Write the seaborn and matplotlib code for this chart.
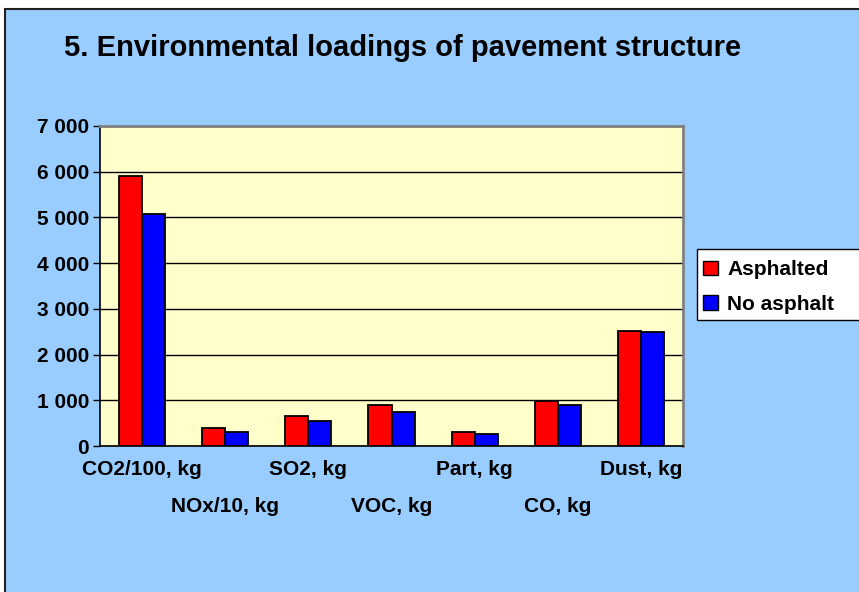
import pandas as pd
import matplotlib
matplotlib.use("Agg")
import matplotlib.pyplot as plt
import seaborn as sns
from matplotlib.patches import Rectangle
from matplotlib.ticker import FuncFormatter

# Data
CATEGORIES = ["CO2/100, kg", "NOx/10, kg", "SO2, kg", "VOC, kg", "Part, kg", "CO, kg", "Dust, kg"]
ASPHALTED = [5900, 400, 660, 900, 300, 990, 2520]
NO_ASPHALT = [5080, 300, 540, 740, 270, 900, 2490]
SERIES = ["Asphalted", "No asphalt"]
Y_TICKS = [0, 1000, 2000, 3000, 4000, 5000, 6000, 7000]

TITLE = "5. Environmental loadings of pavement structure"

BG_BLUE = "#99CCFF"
PLOT_YELLOW = "#FFFFCC"
COLORS = ["#FF0000", "#0000FF"]

W, H = 859, 592

df = pd.DataFrame({
    "category": CATEGORIES * 2,
    "value": ASPHALTED + NO_ASPHALT,
    "series": [SERIES[0]] * len(CATEGORIES) + [SERIES[1]] * len(CATEGORIES),
})

sns.set_style("white")
plt.rcParams["font.family"] = ["Liberation Sans", "DejaVu Sans"]
plt.rcParams["font.weight"] = "bold"
plt.rcParams["text.color"] = "black"
plt.rcParams["xtick.color"] = "black"
plt.rcParams["ytick.color"] = "black"

fig = plt.figure(figsize=(W / 100, H / 100), dpi=100)
fig.patch.set_facecolor("white")

# slide background with black border (cropped on right/bottom)
fig.patches.append(Rectangle((5 / W, -0.1), 1.2, (H - 8.5) / H + 0.1,
                             transform=fig.transFigure, facecolor=BG_BLUE,
                             edgecolor="#222222", linewidth=1.5, zorder=-5))

fig.text(64 / W, 1 - 48 / H, TITLE, fontsize=21, fontweight="bold",
         ha="left", va="center", color="black")

# plot area in pixels: x 100..683, y 126..446
left, right, top, bottom = 100, 683, 126, 446
ax = fig.add_axes([left / W, 1 - bottom / H, (right - left) / W, (bottom - top) / H])
ax.set_facecolor(PLOT_YELLOW)

sns.barplot(data=df, x="category", y="value", hue="series", palette=COLORS,
            width=0.555, saturation=1, edgecolor="black", linewidth=1.3,
            ax=ax, legend=True, zorder=3)

ax.set_ylim(0, 7000)
ax.set_yticks(Y_TICKS)
ax.yaxis.set_major_formatter(FuncFormatter(lambda v, p: f"{int(v):,}".replace(",", " ")))
ax.set_axisbelow(True)
ax.yaxis.grid(True, color="black", linewidth=1)
ax.xaxis.grid(False)
ax.set_xlabel("")
ax.set_ylabel("")

for s in ["top", "right"]:
    ax.spines[s].set_color("#808080")
    ax.spines[s].set_linewidth(2)
for s in ["left", "bottom"]:
    ax.spines[s].set_color("black")
    ax.spines[s].set_linewidth(1.2)

ax.tick_params(axis="y", direction="out", length=5, width=1, pad=3,
               labelsize=15, left=True)
ax.tick_params(axis="x", length=0, labelsize=15)
for lab in ax.get_yticklabels() + ax.get_xticklabels():
    lab.set_fontweight("bold")

# staggered category labels
for i, tick in enumerate(ax.xaxis.get_major_ticks()):
    tick.set_pad(10 if i % 2 == 0 else 37)

ax.get_legend().remove()

# legend frame runs off the right edge
fig.patches.append(Rectangle((697 / W, 1 - 320 / H), 170 / W, 71 / H,
                             transform=fig.transFigure, facecolor="white",
                             edgecolor="black", linewidth=1, zorder=4))
handles = [Rectangle((0, 0), 1, 1, facecolor=c, edgecolor="black", linewidth=1) for c in COLORS]
leg = fig.legend(handles, SERIES, loc="upper left",
                 bbox_to_anchor=(701 / W, 1 - 258 / H), frameon=False,
                 prop={"size": 15, "weight": "bold"}, handlelength=0.7,
                 handleheight=0.7, handletextpad=0.45, labelspacing=0.75,
                 borderpad=0.1, borderaxespad=0)
leg.set_zorder(5)

fig.savefig("out.png", dpi=100)
